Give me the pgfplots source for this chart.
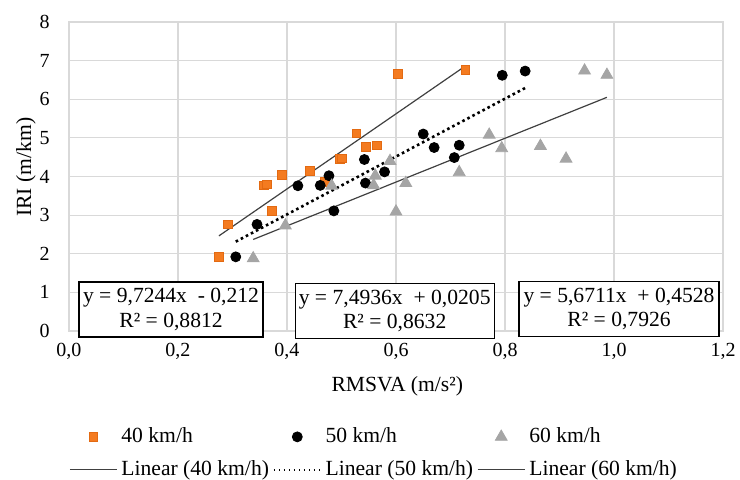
\documentclass[border=0pt]{standalone}
\usepackage{fontspec}
\setmainfont{Liberation Serif}
\usepackage{pgfplots}
\pgfplotsset{compat=1.18}

\definecolor{sqc}{HTML}{F47B20}
\definecolor{sqd}{HTML}{E36A12}
\definecolor{tric}{HTML}{A5A5A5}
\definecolor{gridc}{HTML}{D9D9D9}
\definecolor{trend}{HTML}{404040}

\begin{document}
\begin{tikzpicture}
\path[use as bounding box] (-34.5pt,-74.5pt) rectangle (335.5pt,165.5pt);
\begin{axis}[
  at={(0pt,0pt)}, anchor=south west,
  width=327pt, height=154.5pt, scale only axis,
  xmin=0, xmax=1.2, ymin=0, ymax=8,
  xtick={0,0.2,0.4,0.6,0.8,1.0,1.2}, ytick={0,1,2,3,4,5,6,7,8},
  grid=major, grid style={draw=gridc, line width=0.6pt},
  axis line style={draw=gridc, line width=0.6pt},
  major tick length=0pt,
  clip=false,
  /pgf/number format/assume math mode=true,
  ticklabel style={font=\fontsize{10}{12}\selectfont},
  xticklabel style={yshift=-2.5pt, /pgf/number format/.cd, use comma, fixed, fixed zerofill, precision=1},
  yticklabel style={xshift=-6.2pt},
  xlabel={RMSVA (m/s²)},
  xlabel style={at={(axis description cs:0.502,-0.197)}, anchor=base, font=\fontsize{10.8}{13}\selectfont},
  ylabel={IRI (m/km)},
  ylabel style={at={(axis description cs:-0.058,0.53)}, anchor=base, font=\fontsize{10.8}{13}\selectfont},
  legend columns=3,
  legend cell align=left,
  legend style={draw=none, fill=none, at={(axis description cs:0.468,-0.396)}, anchor=center,
    font=\fontsize{10.8}{13}\selectfont, row sep=3.5pt,
    /tikz/every even column/.append style={column sep=0pt}},
  legend image code/.code={\draw[mark repeat=2,mark phase=2,#1] plot coordinates {(0pt,0pt) (11.75pt,0pt) (23.5pt,0pt)};},
]
% 40 km/h
\addplot[only marks, mark=square*, mark size=2.2pt, mark options={fill=sqc, draw=sqd, line width=0.3pt}] coordinates {
  (0.275,1.92) (0.292,2.76) (0.358,3.77) (0.363,3.80) (0.372,3.12) (0.390,4.05) (0.442,4.15) (0.469,3.87)
  (0.497,4.45) (0.500,4.47) (0.527,5.12) (0.545,4.76) (0.565,4.81) (0.603,6.65) (0.727,6.76)};
\addlegendentry{40 km/h}
% 50 km/h
\addplot[only marks, mark=*, mark size=2.5pt, mark options={fill=black, draw=black}] coordinates {
  (0.306,1.92) (0.345,2.76) (0.420,3.76) (0.461,3.77) (0.477,4.02) (0.486,3.11) (0.542,4.44) (0.544,3.83)
  (0.579,4.12) (0.650,5.10) (0.670,4.75) (0.707,4.49) (0.716,4.81) (0.795,6.62) (0.837,6.73)};
\addlegendentry{50 km/h}
% 60 km/h
\addplot[only marks, mark=triangle*, mark size=3.4pt, mark options={fill=tric, draw=tric}] coordinates {
  (0.338,1.88) (0.397,2.73) (0.482,3.76) (0.559,3.77) (0.562,4.02) (0.589,4.40) (0.600,3.09) (0.618,3.83)
  (0.716,4.11) (0.771,5.08) (0.794,4.73) (0.865,4.79) (0.912,4.46) (0.946,6.74) (0.987,6.63)};
\addlegendentry{60 km/h}
% trend lines
\addplot[no marks, draw=trend, line width=0.6pt] coordinates {(0.275,2.462) (0.727,6.858)};
\addlegendentry{Linear (40 km/h)}
\addplot[no marks, draw=black, line width=1.3pt, dash pattern=on 1.3pt off 1.55pt,
  legend image post style={line width=0.8pt, dash pattern=on 0.8pt off 1.7pt}] coordinates {(0.306,2.314) (0.837,6.292)};
\addlegendentry{Linear (50 km/h)}
\addplot[no marks, draw=trend, line width=0.6pt] coordinates {(0.338,2.370) (0.987,6.050)};
\addlegendentry{Linear (60 km/h)}

\node[draw=black, line width=0.6pt, fill=white, minimum width=92pt, minimum height=27.5pt, inner sep=0pt,
  align=center, font=\fontsize{10.8}{12.2}\selectfont] at (rel axis cs:0.156,0.0696) {y = 9,7244x~ - 0,212\\R² = 0,8812};
\node[draw=black, line width=0.6pt, fill=white, minimum width=99.5pt, minimum height=27.5pt, inner sep=0pt,
  align=center, font=\fontsize{10.8}{12.2}\selectfont] at (rel axis cs:0.498,0.0654) {y = 7,4936x~ + 0,0205\\R² = 0,8632};
\node[draw=black, line width=0.6pt, fill=white, minimum width=100pt, minimum height=27.5pt, inner sep=0pt,
  align=center, font=\fontsize{10.8}{12.2}\selectfont] at (rel axis cs:0.841,0.0706) {y = 5,6711x~ + 0,4528\\R² = 0,7926};
\end{axis}
\end{tikzpicture}
\end{document}
